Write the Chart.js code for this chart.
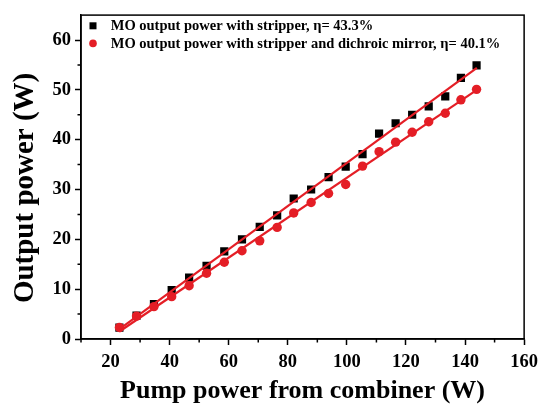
<!DOCTYPE html>
<html><head><meta charset="utf-8">
<script src="https://cdn.jsdelivr.net/npm/chart.js@4.4.1/dist/chart.umd.min.js"></script>
<style>html,body{margin:0;padding:0;background:#fff}#wrap{width:544px;height:404px}</style>
</head><body><div id="wrap"><canvas id="c" width="544" height="404"></canvas></div>
<script>
const pumpPower = [23, 28.8, 34.7, 40.7, 46.6, 52.5, 58.5, 64.5, 70.5, 76.4, 82, 87.9, 93.8, 99.6, 105.3, 110.9, 116.5, 122.1, 127.7, 133.3, 138.6, 143.9];
const powerStripper = [2.3, 4.7, 7.0, 9.8, 12.3, 14.7, 17.6, 20.0, 22.5, 24.8, 28.2, 30.0, 32.5, 34.6, 37.1, 41.2, 43.3, 45.0, 46.7, 48.7, 52.4, 54.9];
const powerDichroic = [2.3, 4.6, 6.5, 8.5, 10.7, 13.2, 15.4, 17.7, 19.7, 22.4, 25.3, 27.4, 29.2, 31.0, 34.7, 37.6, 39.5, 41.5, 43.6, 45.3, 48.0, 50.1];
const fitPumpEnds = [23, 144];
const fitStripperEnds = [2.0, 54.4];
const fitDichroicEnds = [1.5, 50.0];
const seriesLabels = ['MO output power with stripper, \u03B7= 43.3%', 'MO output power with stripper and dichroic mirror, \u03B7= 40.1%'];
const xMajorTicks = [20, 40, 60, 80, 100, 120, 140, 160];
const xMinorTicks = [10, 30, 50, 70, 90, 110, 130, 150];
const yMajorTicks = [0, 10, 20, 30, 40, 50, 60];
const yMinorTicks = [5, 15, 25, 35, 45, 55];
const xTitle = 'Pump power from combiner (W)';
const yTitle = 'Output power (W)';

const RED = '#e41e26';
const FONT = '"Liberation Serif", "Times New Roman", serif';
const toPts = (xs, ys) => xs.map((v, i) => ({x: v, y: ys[i]}));

const decor = {
  id: 'decor',
  afterDraw(chart) {
    const {ctx, chartArea: a, scales: {x, y}} = chart;
    ctx.save();
    ctx.strokeStyle = '#000';
    ctx.lineWidth = 1.5;
    ctx.strokeRect(a.left, a.top, a.right - a.left, a.bottom - a.top);
    ctx.beginPath();
    xMinorTicks.forEach(v => { const px = x.getPixelForValue(v); ctx.moveTo(px, a.bottom); ctx.lineTo(px, a.bottom + 3.5); });
    yMinorTicks.forEach(v => { const py = y.getPixelForValue(v); ctx.moveTo(a.left, py); ctx.lineTo(a.left - 3.5, py); });
    ctx.stroke();
    // legend
    ctx.font = 'bold 14.5px ' + FONT;
    ctx.textBaseline = 'middle';
    ctx.textAlign = 'left';
    [0, 1].forEach(i => {
      const ds = chart.data.datasets[i];
      const my = a.top + 10.7 + i * 17.6;
      const mx = a.left + 12;
      ctx.fillStyle = ds.backgroundColor;
      ctx.beginPath();
      if (ds.pointStyle === 'rect') { ctx.rect(mx - 3.5, my - 3.5, 7, 7); }
      else { ctx.arc(mx, my, 3.8, 0, Math.PI * 2); }
      ctx.fill();
      ctx.fillStyle = '#000';
      ctx.fillText(ds.label, a.left + 29.7, my + 0.5);
    });
    ctx.restore();
  }
};

new Chart(document.getElementById('c'), {
  type: 'scatter',
  data: {
    datasets: [
      {label: seriesLabels[0], data: toPts(pumpPower, powerStripper), pointStyle: 'rect', pointRadius: 5.8, pointHoverRadius: 5.8,
       backgroundColor: '#000', borderColor: '#000', borderWidth: 0, showLine: false, order: 3},
      {label: seriesLabels[1], data: toPts(pumpPower, powerDichroic), pointStyle: 'circle', pointRadius: 4.7, pointHoverRadius: 4.7,
       backgroundColor: RED, borderColor: RED, borderWidth: 0, showLine: false, order: 2},
      {label: '', data: toPts(fitPumpEnds, fitStripperEnds), showLine: true, pointRadius: 0, borderColor: RED, borderWidth: 2.2, order: 1},
      {label: '', data: toPts(fitPumpEnds, fitDichroicEnds), showLine: true, pointRadius: 0, borderColor: RED, borderWidth: 2.2, order: 1}
    ]
  },
  options: {
    responsive: false,
    animation: false,
    layout: {padding: {top: 11, right: 18, left: 0, bottom: 0}},
    plugins: {legend: {display: false}, tooltip: {enabled: false}},
    scales: {
      x: {
        type: 'linear', min: 10, max: 160,
        afterBuildTicks: s => { s.ticks = xMajorTicks.map(v => ({value: v})); },
        afterFit: s => { s.height = 65; },
        ticks: {color: '#000', font: {family: FONT, size: 18.5, weight: 'bold'}, padding: 6, maxRotation: 0, autoSkip: false},
        grid: {drawOnChartArea: false, drawTicks: true, tickLength: 6, tickColor: '#000', tickWidth: 1.5, color: '#000'},
        border: {display: true, color: '#000', width: 1.5},
        title: {display: true, text: xTitle, color: '#000', font: {family: FONT, size: 26, weight: 'bold', lineHeight: 1.0}, padding: {top: 0, bottom: 0}}
      },
      y: {
        type: 'linear', min: 0, max: 65,
        afterBuildTicks: s => { s.ticks = yMajorTicks.map(v => ({value: v})); },
        afterFit: s => { s.width = 81; },
        ticks: {color: '#000', font: {family: FONT, size: 18.5, weight: 'bold'}, padding: 4, autoSkip: false},
        grid: {drawOnChartArea: false, drawTicks: true, tickLength: 6, tickColor: '#000', tickWidth: 1.5, color: '#000'},
        border: {display: true, color: '#000', width: 1.5},
        title: {display: true, text: yTitle + '\u00A0\u00A0\u00A0', color: '#000', font: {family: FONT, size: 29, weight: 'bold'}, padding: {top: 8.6, bottom: 0}}
      }
    }
  },
  plugins: [decor]
});
</script>
</body></html>
